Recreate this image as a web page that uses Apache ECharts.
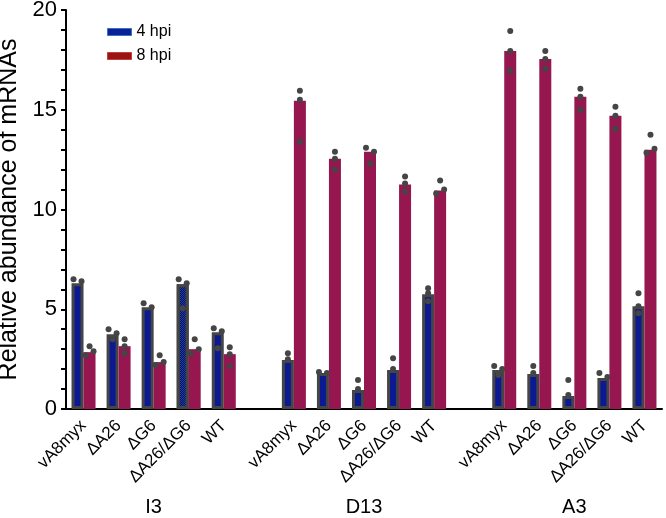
<!DOCTYPE html>
<html>
<head>
<meta charset="utf-8">
<script src="https://cdn.jsdelivr.net/npm/echarts@6/dist/echarts.min.js"></script>
<style>html,body{margin:0;padding:0;background:#fff;}#c{width:666px;height:518px;}</style>
</head>
<body>
<div id="c"></div>
<script>
// ---- data ----
const categories = ['vA8myx','ΔA26','ΔG6','ΔA26/ΔG6','WT','',
                    'vA8myx','ΔA26','ΔG6','ΔA26/ΔG6','WT','',
                    'vA8myx','ΔA26','ΔG6','ΔA26/ΔG6','WT'];
const groups = ['I3','D13','A3'];
const groupCenterIndex = [2, 8, 14];
const yTicks = [0, 5, 10, 15, 20];
const hpi4 = [6.3, 3.75, 5.1, 6.25, 3.85, null,
              2.45, 1.8, 0.95, 1.95, 5.75, null,
              1.95, 1.75, 0.65, 1.55, 5.15];
const hpi8 = [2.85, 3.15, 2.35, 3.0, 2.75, null,
              15.45, 12.55, 12.9, 11.25, 10.95, null,
              17.95, 17.55, 15.65, 14.7, 13.0];
const reps4 = [[6.5,6.4],[4.0,3.5,3.8],[5.3,5.1],[6.5,5.05,6.3],[4.05,3.05,3.9], null,
               [2.8,2.5],[1.85,1.8],[1.45,1.0],[2.55,2.0],[6.05,5.8,5.4], null,
               [2.15,1.7,2.0],[2.15,1.8],[1.45,0.7],[1.8,1.6],[5.8,5.15,4.8]];
const reps8 = [[3.15,2.7,2.9],[3.5,3.15,2.8],[2.7,2.2,2.35],[3.5,2.8,3.0],[3.1,2.75,2.15], null,
               [15.95,15.5,13.4],[12.9,12.55,12.0],[13.1,12.3,12.9],[11.65,11.3,10.9],[11.45,10.8,11.0], null,
               [18.95,17.95,16.95],[17.95,17.55,17.05],[16.05,15.65,15.0],[15.15,14.7,14.05],[13.75,12.85,13.05]];
const patternedIndex = 3; // I3 ΔA26/ΔG6 4 hpi bar drawn with a pattern

// ---- build ----
const FONT = 'Liberation Sans, Arial, sans-serif';
const slotPx = 35, barW = 12;
const barShift = (barW / 2) / slotPx;
const dotStep = 4 / slotPx;

function dotPoints(reps, side) {
  const pts = [];
  reps.forEach((vals, i) => {
    if (!vals) return;
    // simple swarm: dots closer than a threshold are spread sideways
    const used = new Array(vals.length).fill(false);
    const offs = new Array(vals.length).fill(0);
    for (let a = 0; a < vals.length; a++) {
      if (used[a]) continue;
      const cl = [a];
      for (let b = a + 1; b < vals.length; b++) {
        if (!used[b] && cl.some(k => Math.abs(vals[k] - vals[b]) < 0.22)) cl.push(b);
      }
      cl.forEach((k, j) => { used[k] = true; offs[k] = (j - (cl.length - 1) / 2) * 2 * dotStep / Math.max(1, cl.length - 1); });
    }
    vals.forEach((v, k) => pts.push([i + side * barShift + offs[k], v]));
  });
  return pts;
}

const blueData = hpi4.map((v, i) => {
  if (v === null) return null;
  if (i === patternedIndex) {
    return { value: v, itemStyle: { color: '#1a3aa8', decal: { symbol: 'rect', symbolSize: 1, color: 'rgba(0,0,40,0.6)', dashArrayX: [[1,1],[0,1,1,0]], dashArrayY: [1,0] } } };
  }
  return v;
});

const chart = echarts.init(document.getElementById('c'), null, { renderer: 'canvas' });
const option = {
  animation: false,
  backgroundColor: '#fff',
  textStyle: { fontFamily: FONT, color: '#000' },
  grid: { left: 66, right: 4, top: 10, bottom: 109, containLabel: false, outerBoundsMode: 'none' },
  legend: {
    orient: 'vertical', left: 102, top: 19,
    itemWidth: 24, itemHeight: 7, itemGap: 8, icon: 'rect',
    textStyle: { fontFamily: FONT, fontSize: 16, color: '#000' },
    data: [
      { name: '4 hpi', itemStyle: { color: '#0d1f99', borderColor: '#3a70c8', borderWidth: 1 } },
      { name: '8 hpi', itemStyle: { color: '#9a1414', borderColor: '#c04040', borderWidth: 1 } }
    ]
  },
  xAxis: [
    {
      type: 'category', data: categories, boundaryGap: true,
      axisLine: { onZero: false, lineStyle: { color: '#000', width: 2 } },
      axisTick: { show: false },
      axisLabel: { interval: 0, rotate: 45, margin: 14, fontSize: 17, color: '#000', fontFamily: FONT }
    },
    { type: 'value', min: -0.5, max: categories.length - 0.5, show: false }
  ],
  yAxis: {
    type: 'value', min: 0, max: 20, interval: 1,
    name: 'Relative abundance of mRNAs', nameLocation: 'middle', nameGap: 36,
    nameTextStyle: { fontSize: 25, color: '#000', fontFamily: FONT },
    axisLine: { show: true, onZero: false, lineStyle: { color: '#000', width: 2 } },
    axisTick: { show: true, length: 5, lineStyle: { color: '#000', width: 2 } },
    axisLabel: { fontSize: 22, color: '#000', margin: 9, fontFamily: FONT,
                 formatter: v => (yTicks.indexOf(v) >= 0 ? String(v) : '') },
    splitLine: { show: false }
  },
  series: [
    { name: '4 hpi', type: 'bar', data: blueData, barWidth: barW, barGap: '0%',
      itemStyle: { color: '#0b1a92', borderColor: '#454545', borderWidth: 3 }, z: 2 },
    { name: '8 hpi', type: 'bar', data: hpi8, barWidth: barW, barGap: '0%',
      itemStyle: { color: '#961650' }, z: 2 },
    { name: 'rep4', type: 'scatter', xAxisIndex: 1, data: dotPoints(reps4, -1),
      symbolSize: 6, itemStyle: { color: '#454545', opacity: 1 }, z: 5 },
    { name: 'rep8', type: 'scatter', xAxisIndex: 1, data: dotPoints(reps8, 1),
      symbolSize: 6, itemStyle: { color: '#454545', opacity: 1 }, z: 5 }
  ]
};
chart.setOption(option);

const gy = 507;
chart.setOption({
  graphic: groups.map((g, k) => ({
    type: 'text',
    x: chart.convertToPixel({ xAxisIndex: 1 }, groupCenterIndex[k]),
    y: gy,
    style: { text: g, fontSize: 20, fontFamily: FONT, fill: '#000', align: 'center', verticalAlign: 'middle' }
  }))
});
</script>
</body>
</html>
